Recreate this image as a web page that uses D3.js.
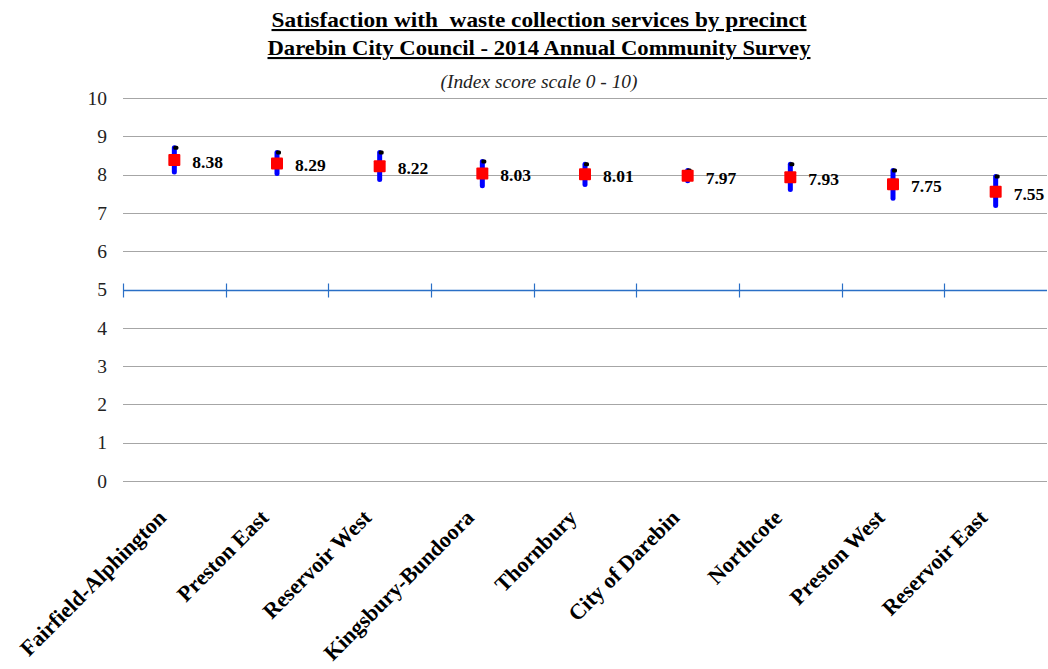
<!DOCTYPE html>
<html>
<head>
<meta charset="utf-8">
<script src="https://cdn.jsdelivr.net/npm/d3@7/dist/d3.min.js"></script>
<style>
  html, body { margin: 0; padding: 0; background: #ffffff; }
  svg { display: block; }
  text { font-family: "Liberation Serif", "Times New Roman", serif; }
</style>
</head>
<body>
<svg id="chart" width="1048" height="669"></svg>
<script>
// Precincts, in display order
const categories = [
  "Fairfield-Alphington", "Preston East", "Reservoir West", "Kingsbury-Bundoora",
  "Thornbury", "City of Darebin", "Northcote", "Preston West", "Reservoir East"
];
// Mean satisfaction index (0 - 10)
const means = [8.38, 8.29, 8.22, 8.03, 8.01, 7.97, 7.93, 7.75, 7.55];
// Confidence interval bounds
const lows  = [8.07, 8.03, 7.87, 7.71, 7.74, 7.84, 7.61, 7.38, 7.19];
const highs = [8.70, 8.58, 8.58, 8.34, 8.27, 8.11, 8.27, 8.11, 7.95];
// Value axis ticks
const yTicks = [0, 1, 2, 3, 4, 5, 6, 7, 8, 9, 10];
const axisCross = 5;

const titleLines = [
  "Satisfaction with  waste collection services by precinct",
  "Darebin City Council - 2014 Annual Community Survey"
];
const subtitle = "(Index score scale 0 - 10)";

const svg = d3.select("#chart");

const x = d3.scaleBand().domain(categories).range([123, 1047]).padding(0);
const y = d3.scaleLinear().domain([0, 10]).range([481, 98]);

// Titles (widened to the heading's typeset width)
function heading(txt, yPos, size, width, italic, bold) {
  svg.append("text")
    .attr("x", 539).attr("y", yPos)
    .attr("text-anchor", "middle")
    .attr("textLength", width).attr("lengthAdjust", "spacingAndGlyphs")
    .style("white-space", "pre")
    .style("font-size", size + "px")
    .style("font-weight", bold ? "bold" : "normal")
    .style("font-style", italic ? "italic" : "normal")
    .style("text-decoration", bold ? "underline" : "none")
    .attr("fill", bold ? "#000" : "#222")
    .text(txt);
}
heading(titleLines[0], 27, 21, 535, false, true);
heading(titleLines[1], 55, 21, 543, false, true);
heading(subtitle, 88, 18, 197, true, false);

// Horizontal gridlines
svg.append("g")
  .selectAll("line")
  .data(yTicks.filter(t => t !== axisCross))
  .join("line")
  .attr("x1", 123).attr("x2", 1047)
  .attr("y1", d => Math.round(y(d)) + 0.5).attr("y2", d => Math.round(y(d)) + 0.5)
  .attr("stroke", "#a6a6a6").attr("stroke-width", 1);

// Value axis labels
const yAxis = svg.append("g")
  .attr("transform", "translate(107,0)")
  .call(d3.axisLeft(y).tickValues(yTicks).tickSize(0).tickPadding(0).tickFormat(d3.format("d")));
yAxis.select(".domain").remove();
yAxis.selectAll("text")
  .style("font-family", "'Liberation Serif', serif")
  .style("font-size", "19.5px")
  .attr("fill", "#222");

// Category axis crossing at 5
const axisY = Math.round(y(axisCross)) + 0.5;
svg.append("line")
  .attr("x1", 123).attr("x2", 1047)
  .attr("y1", axisY).attr("y2", axisY)
  .attr("stroke", "#2a6fc6").attr("stroke-width", 1.3);
svg.append("g")
  .selectAll("line")
  .data(categories)
  .join("line")
  .attr("x1", d => Math.round(x(d)) + 0.5).attr("x2", d => Math.round(x(d)) + 0.5)
  .attr("y1", axisY - 7).attr("y2", axisY + 7)
  .attr("stroke", "#2a6fc6").attr("stroke-width", 1.2);

// Category labels, rotated
svg.append("g")
  .selectAll("text")
  .data(categories)
  .join("text")
  .attr("transform", d => `translate(${x(d) + x.bandwidth() / 2 - 7},519) rotate(-45)`)
  .attr("text-anchor", "end")
  .style("font-size", "22px").style("font-weight", "bold")
  .attr("fill", "#000")
  .text(d => d);

// Interval bars and means
const idx = d3.range(categories.length);
const cx = i => x(categories[i]) + x.bandwidth() / 2;

const marks = svg.append("g");
marks.selectAll("line.ci")
  .data(idx)
  .join("line")
  .attr("class", "ci")
  .attr("x1", i => cx(i)).attr("x2", i => cx(i))
  .attr("y1", i => y(lows[i])).attr("y2", i => y(highs[i]))
  .attr("stroke", "#0000ff").attr("stroke-width", 5)
  .attr("stroke-linecap", "round");

marks.selectAll("rect.hi")
  .data(idx)
  .join("rect")
  .attr("class", "hi")
  .attr("x", i => cx(i) - 1).attr("y", i => y(highs[i]) - 2)
  .attr("width", 5).attr("height", 4).attr("rx", 1.5)
  .attr("fill", "#000");

marks.selectAll("rect.mean")
  .data(idx)
  .join("rect")
  .attr("class", "mean")
  .attr("x", i => cx(i) - 6).attr("y", i => y(means[i]) - 6)
  .attr("width", 12).attr("height", 12).attr("rx", 1)
  .attr("fill", "#ff0000");

marks.selectAll("text.val")
  .data(idx)
  .join("text")
  .attr("class", "val")
  .attr("x", i => cx(i) + 18).attr("y", i => y(means[i]) + 8)
  .style("font-size", "17.5px").style("font-weight", "bold")
  .attr("fill", "#000")
  .text(i => means[i].toFixed(2));
</script>
</body>
</html>
